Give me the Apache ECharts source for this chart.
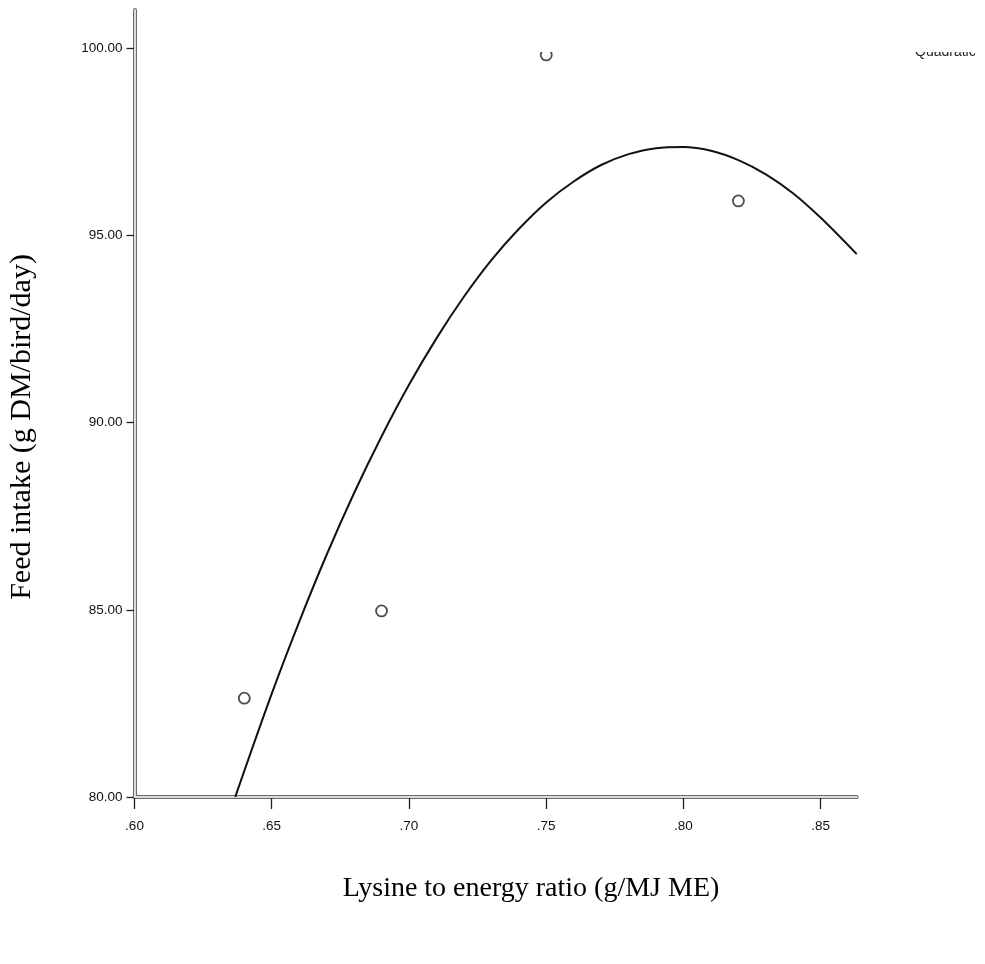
<!DOCTYPE html>
<html>
<head>
<meta charset="utf-8">
<script src="https://cdn.jsdelivr.net/npm/echarts@6/dist/echarts.min.js"></script>
<style>html,body{margin:0;padding:0;background:#fff;}#c{width:985px;height:964px;}</style>
</head>
<body>
<div id="c"></div>
<script>
// Observed points
const pointX = [0.64, 0.69, 0.75, 0.82];
const pointY = [82.64, 84.97, 99.82, 95.92];
// Quadratic fit curve
const curveX = [0.6367, 0.65, 0.66, 0.67, 0.68, 0.69, 0.70, 0.71, 0.72, 0.73, 0.74, 0.75, 0.76, 0.77, 0.78, 0.79, 0.80, 0.81, 0.82, 0.83, 0.84, 0.85, 0.8631];
const curveY = [80.0, 82.76, 84.68, 86.47, 88.12, 89.63, 91.01, 92.25, 93.36, 94.34, 95.17, 95.88, 96.44, 96.88, 97.17, 97.33, 97.36, 97.26, 97.01, 96.63, 96.12, 95.47, 94.5];
// Tick labels
const xTicks = [0.60, 0.65, 0.70, 0.75, 0.80, 0.85];
const yTicks = [80, 85, 90, 95, 100];
const xRange = [0.60, 0.8631];
const yRange = [80, 101.02];
const xTitle = 'Lysine to energy ratio (g/MJ ME)';
const yTitle = 'Feed intake (g DM/bird/day)';
const legendText = 'Quadratic';

const chart = echarts.init(document.getElementById('c'), null, {renderer: 'canvas'});
const labelFont = {fontFamily: 'Liberation Sans, Arial, sans-serif', fontSize: 13.5, color: '#111'};
const baseAxisX = {
  type: 'value', min: xRange[0], max: xRange[1], gridIndex: 0, position: 'bottom',
  splitLine: {show: false}
};
const baseAxisY = {
  type: 'value', min: yRange[0], max: yRange[1], gridIndex: 0, position: 'left',
  splitLine: {show: false}
};
chart.setOption({
  animation: false,
  backgroundColor: '#fff',
  grid: {left: 134.5, right: 128.3, top: 10, bottom: 167, containLabel: false},
  xAxis: [
    Object.assign({}, baseAxisX, {
      axisLine: {show: true, lineStyle: {color: '#6a6a6a', width: 4}},
      axisTick: {show: true, length: 12, lineStyle: {color: '#222', width: 1.3}, customValues: xTicks},
      axisLabel: Object.assign({show: true, margin: 22, customValues: xTicks,
        formatter: v => Number(v).toFixed(2).replace(/^0/, '')}, labelFont)
    }),
    Object.assign({}, baseAxisX, {
      z: 1,
      axisLine: {show: true, lineStyle: {color: '#dcdcdc', width: 2}},
      axisTick: {show: false}, axisLabel: {show: false}
    })
  ],
  yAxis: [
    Object.assign({}, baseAxisY, {
      axisLine: {show: true, lineStyle: {color: '#6a6a6a', width: 4}},
      axisTick: {show: true, length: 8, lineStyle: {color: '#222', width: 1.3}, customValues: yTicks},
      axisLabel: Object.assign({show: true, margin: 12, customValues: yTicks,
        formatter: v => Number(v).toFixed(2)}, labelFont)
    }),
    Object.assign({}, baseAxisY, {
      z: 1,
      axisLine: {show: true, lineStyle: {color: '#dcdcdc', width: 2}},
      axisTick: {show: false}, axisLabel: {show: false}
    })
  ],
  series: [
    {
      type: 'line', xAxisIndex: 0, yAxisIndex: 0, smooth: 0.35, showSymbol: false,
      lineStyle: {color: '#111', width: 2},
      data: curveX.map((x, i) => [x, curveY[i]]), z: 3
    },
    {
      type: 'scatter', xAxisIndex: 0, yAxisIndex: 0, symbol: 'circle', symbolSize: 11,
      itemStyle: {color: '#fff', borderColor: '#222', borderWidth: 1.8},
      data: pointX.map((x, i) => [x, pointY[i]]), z: 4
    }
  ],
  graphic: [
    {type: 'text', z: 10, left: 915, top: 45,
      style: {text: legendText, fontFamily: 'Liberation Sans, Arial, sans-serif', fontSize: 14, fill: '#222'}},
    {type: 'rect', z: 20, shape: {x: 140, y: 0, width: 845, height: 52}, style: {fill: '#fff'}},
    {type: 'text', z: 10, x: 531, y: 889,
      style: {text: xTitle, fontFamily: 'Liberation Serif, Times New Roman, serif', fontSize: 28, fill: '#000',
        textAlign: 'center', textVerticalAlign: 'middle'}},
    {type: 'text', z: 10, x: 22, y: 427, rotation: Math.PI / 2,
      style: {text: yTitle, fontFamily: 'Liberation Serif, Times New Roman, serif', fontSize: 30, fill: '#000',
        textAlign: 'center', textVerticalAlign: 'middle'}}
  ]
});
</script>
</body>
</html>
